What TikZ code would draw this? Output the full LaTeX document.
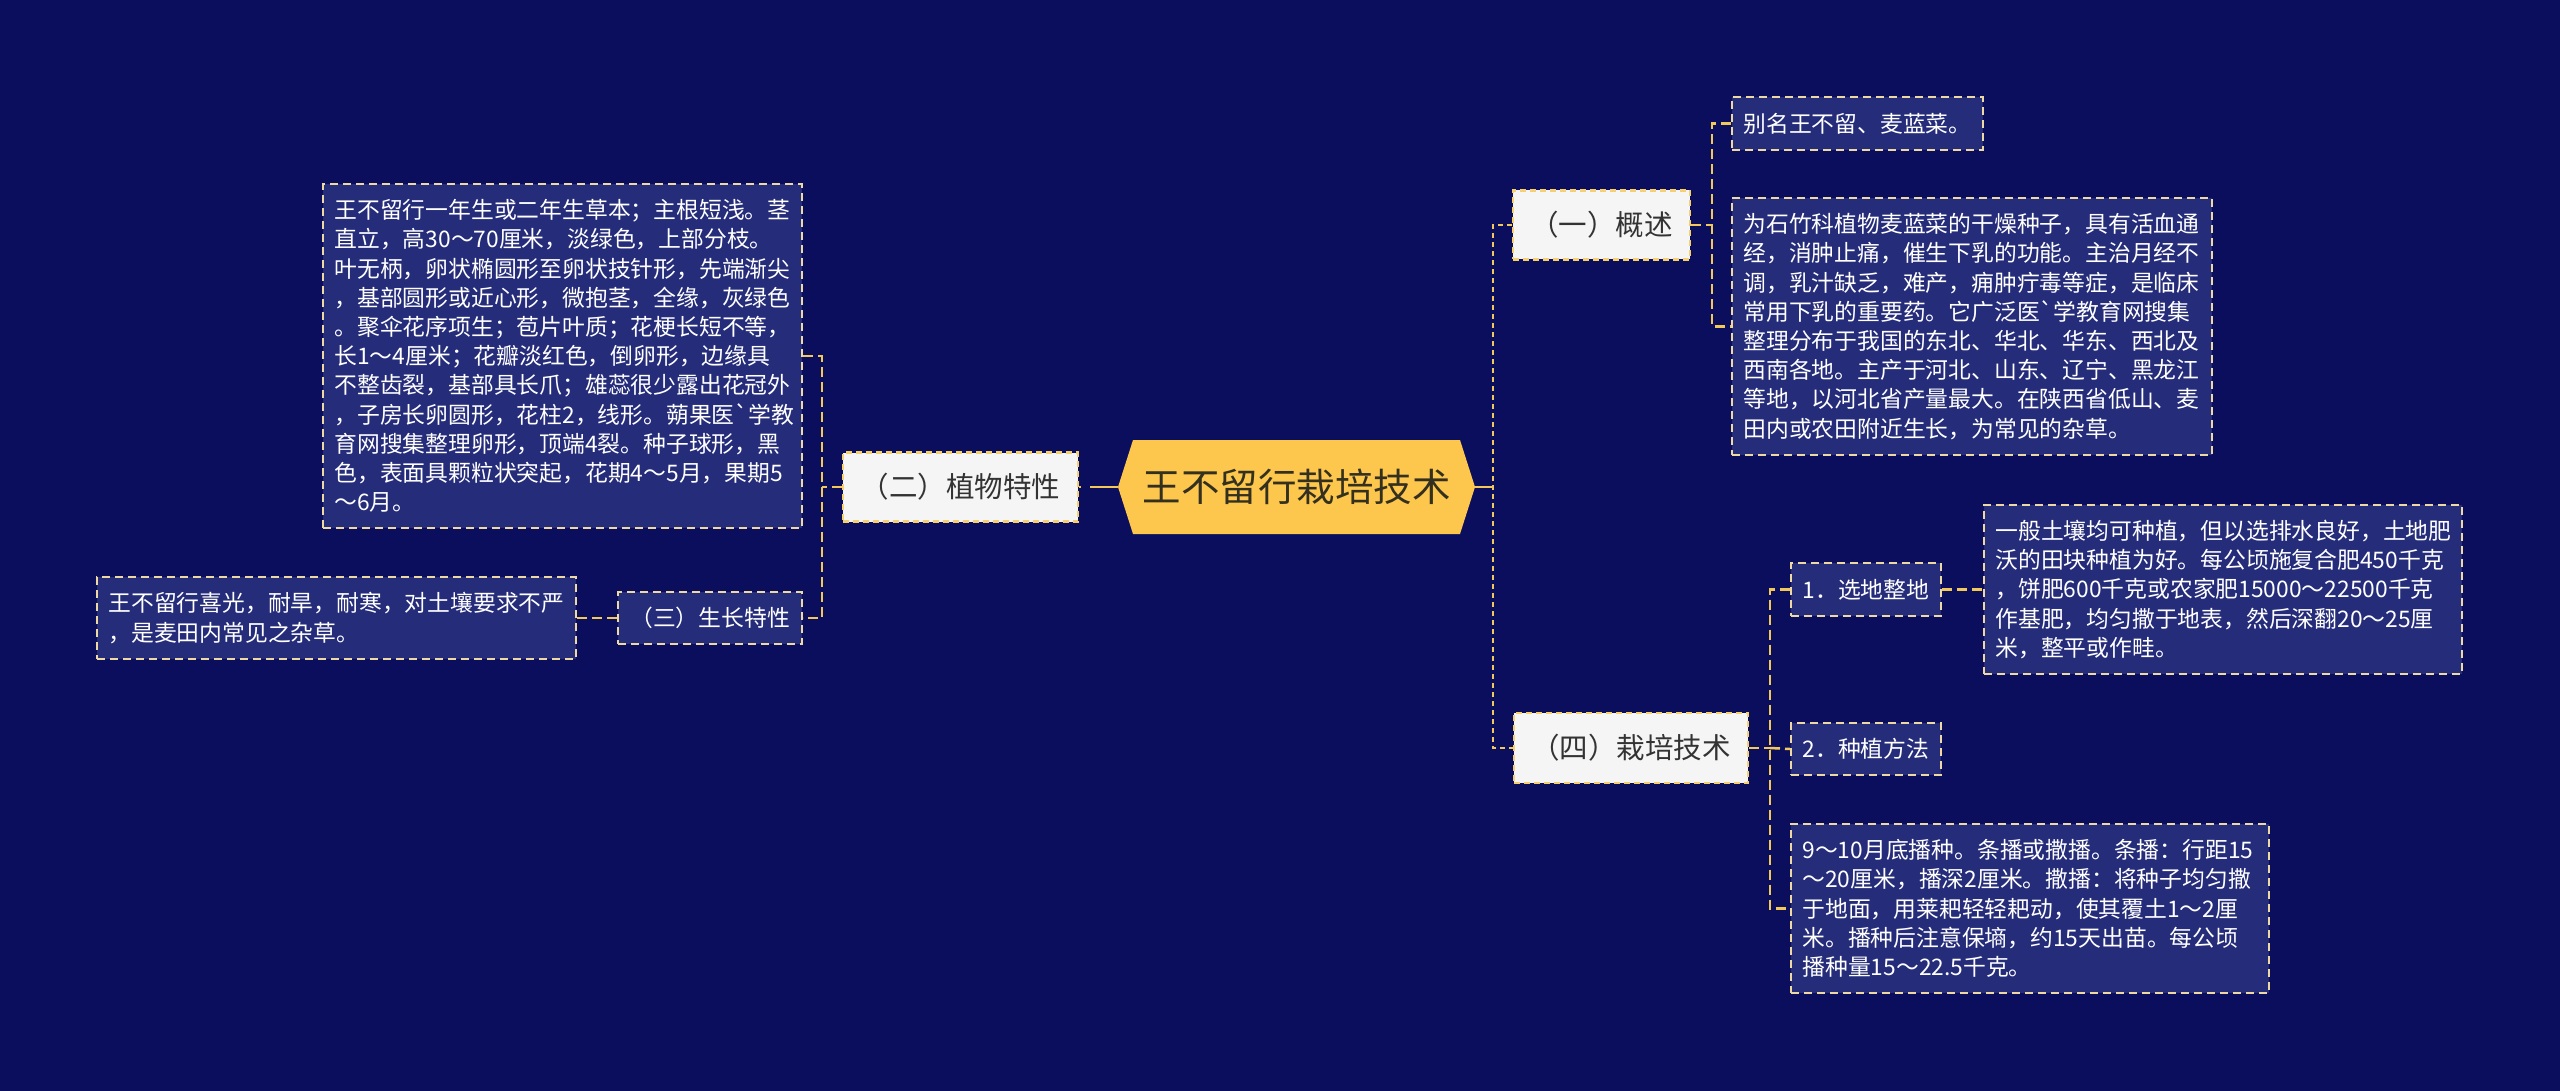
\documentclass[tikz,border=0pt]{standalone}
\usepackage{fontspec}
\setmainfont{Noto Sans CJK SC}[Ligatures=TeXOff]
\definecolor{bgcol}{HTML}{0A0E5C}
\definecolor{leaffill}{HTML}{252C7A}
\definecolor{leafborder}{HTML}{EFD9A2}
\definecolor{lvfill}{HTML}{F5F5F5}
\definecolor{lvborder}{HTML}{F6CF6E}
\definecolor{lvtext}{HTML}{333333}
\definecolor{conncol}{HTML}{F2C85A}
\definecolor{rootfill}{HTML}{FDC64C}
\definecolor{roottext}{HTML}{33301F}
\newcommand\leaffont{\fontsize{22.8pt}{29.2pt}\selectfont}
\newcommand\lvfont{\fontsize{28.5pt}{34pt}\selectfont}
\newcommand\rootfont{\fontsize{38.5pt}{46pt}\selectfont}
\begin{document}
\begin{tikzpicture}[x=1pt,y=-1pt,
 leaf/.style={draw=leafborder, line width=2pt, dash pattern=on 8pt off 5pt, fill=leaffill, text=white, font=\leaffont, inner xsep=11.5pt, inner ysep=0pt, align=left},
 chip/.style={leaf, align=center},
 lvone/.style={draw=lvborder, line width=2.2pt, dash pattern=on 6pt off 4pt, fill=lvfill, text=lvtext, font=\lvfont, inner sep=0pt, align=center},
 conn/.style={draw=conncol, line width=2.5pt, dash pattern=on 10pt off 5pt},
 conndense/.style={draw=conncol, line width=2.5pt, dash pattern=on 5pt off 4pt},
 rootconn/.style={draw=conncol, line width=2.5pt, dash pattern=on 28pt off 9pt},
]
\fill[bgcol] (0,0) rectangle (2560,1091);
\useasboundingbox (0,0) rectangle (2560,1091);

% root
\fill[rootfill] (1118,487) -- (1133,440) -- (1460,440) -- (1475,487) -- (1460,534) -- (1133,534) -- cycle;
\node[font=\rootfont, text=roottext, minimum width=357pt, minimum height=94pt, inner sep=0pt] (root) at (1296.5,487) {王不留行栽培技术};

% level one
\node[lvone, minimum width=235pt, minimum height=69pt] (n2) at (960.5,487) {（二）植物特性};
\node[lvone, minimum width=177pt, minimum height=69pt] (n1) at (1601.5,225) {（一）概述};
\node[lvone, minimum width=234pt, minimum height=70pt] (n4) at (1631,748) {（四）栽培技术};

% left side
\node[leaf, minimum width=479pt, minimum height=344pt, text width=456pt] (la) at (562.5,356) {王不留行一年生或二年生草本；主根短浅。茎\\直立，高30～70厘米，淡绿色，上部分枝。\\叶无柄，卵状椭圆形至卵状技针形，先端渐尖\\，基部圆形或近心形，微抱茎，全缘，灰绿色\\。聚伞花序项生；苞片叶质；花梗长短不等，\\长1～4厘米；花瓣淡红色，倒卵形，边缘具\\不整齿裂，基部具长爪；雄蕊很少露出花冠外\\，子房长卵圆形，花柱2，线形。蒴果医`学教\\育网搜集整理卵形，顶端4裂。种子球形，黑\\色，表面具颗粒状突起，花期4～5月，果期5\\～6月。};
\node[chip, minimum width=184pt, minimum height=52pt] (n3) at (710,618) {（三）生长特性};
\node[leaf, minimum width=479pt, minimum height=82pt, text width=456pt] (lc) at (336.5,618) {王不留行喜光，耐旱，耐寒，对土壤要求不严\\，是麦田内常见之杂草。};

% right side
\node[chip, minimum width=251pt, minimum height=53pt] (b1) at (1857.5,123.5) {别名王不留、麦蓝菜。};
\node[leaf, minimum width=480pt, minimum height=257pt, text width=457pt] (b2) at (1972,326.5) {为石竹科植物麦蓝菜的干燥种子，具有活血通\\经，消肿止痛，催生下乳的功能。主治月经不\\调，乳汁缺乏，难产，痈肿疔毒等症，是临床\\常用下乳的重要药。它广泛医`学教育网搜集\\整理分布于我国的东北、华北、华东、西北及\\西南各地。主产于河北、山东、辽宁、黑龙江\\等地，以河北省产量最大。在陕西省低山、麦\\田内或农田附近生长，为常见的杂草。};
\node[chip, minimum width=150pt, minimum height=53pt] (s1) at (1866,589.5) {1．选地整地};
\node[chip, minimum width=150pt, minimum height=52pt] (s2) at (1866,749) {2．种植方法};
\node[leaf, minimum width=478pt, minimum height=169pt, text width=455pt] (d1) at (2223,589.5) {一般土壤均可种植，但以选排水良好，土地肥\\沃的田块种植为好。每公顷施复合肥450千克\\，饼肥600千克或农家肥15000～22500千克\\作基肥，均匀撒于地表，然后深翻20～25厘\\米，整平或作畦。};
\node[leaf, minimum width=478pt, minimum height=169pt, text width=455pt] (d2) at (2030,908.5) {9～10月底播种。条播或撒播。条播：行距15\\～20厘米，播深2厘米。撒播：将种子均匀撒\\于地面，用莱耙轻轻耙动，使其覆土1～2厘\\米。播种后注意保墒，约15天出苗。每公顷\\播种量15～22.5千克。};

% junctions
\coordinate (jl) at (822,487);
\coordinate (jr) at (1493,487);
\coordinate (j1) at (1712,225);
\coordinate (j4) at (1770,748);

% connectors
\draw[rootconn] (root.west) -- (n2.east);
\draw[conn] (n2.west) -- (jl);
\draw[conn] (la.east) -| (jl) |- (n3.east);
\draw[conn] (n3.west) -- (lc.east);
\draw[rootconn] (root.east) -- (jr);
\draw[conndense] (n1.west) -| (jr) |- (n4.west);
\draw[conn] (n1.east) -- (j1);
\draw[conn] (b1.west) -| (j1) |- (b2.west);
\draw[conn] (n4.east) -- (j4);
\draw[conn] (s1.west) -| (j4) |- (d2.west);
\draw[conn] (j4) -- (s2.west);
\draw[conn] (s1.east) -- (d1.west);
\end{tikzpicture}
\end{document}
